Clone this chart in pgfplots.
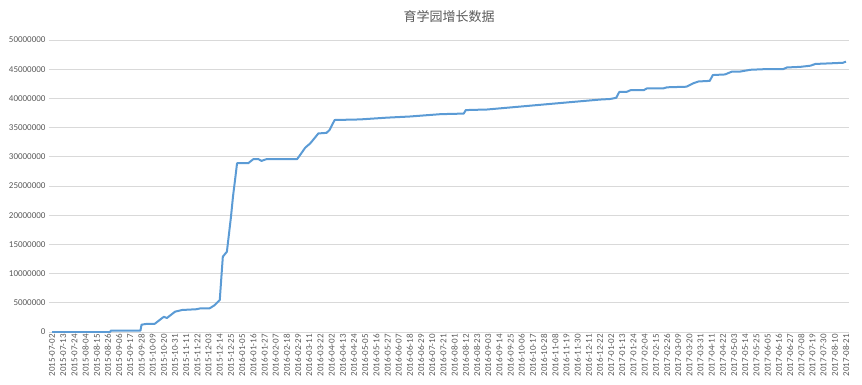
\documentclass[border=0pt]{standalone}
\usepackage{fontspec}
\setmainfont{Carlito}
\newfontfamily\cjk{Noto Sans CJK SC}
\usepackage{pgfplots}
\pgfplotsset{compat=1.18}
\definecolor{xlblue}{HTML}{5B9BD5}
\definecolor{txtgray}{HTML}{595959}
\definecolor{gridgray}{HTML}{D9D9D9}
\begin{document}
\begin{tikzpicture}
\begin{axis}[
  at={(0,0)}, anchor=south west,
  scale only axis, width=800pt, height=292pt,
  xmin=-3, xmax=784, ymin=0, ymax=50000000,
  scaled y ticks=false,
  axis line style={draw=none},
  ymajorgrids, major grid style={gridgray, line width=0.8pt},
  major tick length=0pt,
  ytick={0,5000000,10000000,15000000,20000000,25000000,30000000,35000000,40000000,45000000,50000000},
  yticklabels={0,5000000,10000000,15000000,20000000,25000000,30000000,35000000,40000000,45000000,50000000},
  xtick={0,11,...,781},
  xticklabels={2015-07-02,2015-07-13,2015-07-24,2015-08-04,2015-08-15,2015-08-26,2015-09-06,2015-09-17,2015-09-28,2015-10-09,2015-10-20,2015-10-31,2015-11-11,2015-11-22,2015-12-03,2015-12-14,2015-12-25,2016-01-05,2016-01-16,2016-01-27,2016-02-07,2016-02-18,2016-02-29,2016-03-11,2016-03-22,2016-04-02,2016-04-13,2016-04-24,2016-05-05,2016-05-16,2016-05-27,2016-06-07,2016-06-18,2016-06-29,2016-07-10,2016-07-21,2016-08-01,2016-08-12,2016-08-23,2016-09-03,2016-09-14,2016-09-25,2016-10-06,2016-10-17,2016-10-28,2016-11-08,2016-11-19,2016-11-30,2016-12-11,2016-12-22,2017-01-02,2017-01-13,2017-01-24,2017-02-04,2017-02-15,2017-02-26,2017-03-09,2017-03-20,2017-03-31,2017-04-11,2017-04-22,2017-05-03,2017-05-14,2017-05-25,2017-06-05,2017-06-16,2017-06-27,2017-07-08,2017-07-19,2017-07-30,2017-08-10,2017-08-21},
  xticklabel style={rotate=90, anchor=east, font=\fontsize{9}{10}\selectfont, text=txtgray, inner sep=2pt},
  yticklabel style={font=\fontsize{9}{10}\selectfont, text=txtgray},
  title={\cjk 育学园增长数据},
  title style={font=\fontsize{13}{15}\selectfont, text=txtgray, at={(0.5,1)}, anchor=south, yshift=8pt},
]
\draw[gridgray, line width=0.8pt] (axis cs:-3,0) -- (axis cs:784,0);
\addplot[xlblue, line width=2pt, line join=round] coordinates {
(0,0) (57,0) (58,250000) (87,250000) (88,1250000) (92,1370000) (101,1400000)
(108,2350000) (110,2600000) (113,2400000) (121,3480000) (128,3770000)
(142,3900000) (146,4050000) (155,4050000) (160,4600000) (165,5500000)
(168,12900000) (172,13750000) (176,19700000) (178,23200000) (180,26000000)
(182,28900000) (193,28900000) (198,29600000) (203,29600000) (206,29300000)
(211,29600000) (241,29600000) (244,30300000) (249,31550000) (254,32300000)
(262,34000000) (270,34100000) (273,34600000) (278,36300000) (303,36400000)
(329,36700000) (352,36900000) (382,37300000) (405,37400000) (407,38000000)
(428,38100000) (454,38500000) (480,38900000) (506,39300000) (539,39800000)
(549,39900000) (555,40100000) (558,41100000) (565,41100000) (569,41400000)
(582,41400000) (585,41700000) (601,41700000) (605,41900000) (624,42000000)
(631,42600000) (636,42900000) (647,43000000) (650,44000000) (662,44100000)
(669,44600000) (677,44600000) (687,44900000) (700,45000000) (719,45000000)
(723,45300000) (736,45400000) (746,45600000) (751,45900000) (765,46000000)
(778,46100000) (781,46300000)
};
\end{axis}
\pgfresetboundingbox
\path[use as bounding box] (-49pt,-52pt) rectangle (813pt,332pt);
\end{tikzpicture}
\end{document}
